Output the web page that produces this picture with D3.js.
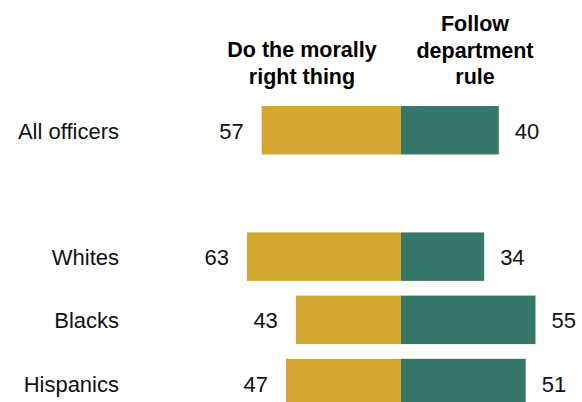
<!DOCTYPE html>
<html>
<head>
<meta charset="utf-8">
<script src="https://cdn.jsdelivr.net/npm/d3@7"></script>
<style>
  html, body { margin: 0; padding: 0; background: #fff; }
  svg { display: block; }
</style>
</head>
<body>
<svg id="chart" width="582" height="402"></svg>
<script>
const categories = ["All officers", "Whites", "Blacks", "Hispanics"];
const moralValues = [57, 63, 43, 47];
const ruleValues = [40, 34, 55, 51];
const moralHeader = ["Do the morally", "right thing"];
const ruleHeader = ["Follow", "department", "rule"];

const colorMoral = "#d3a730";
const colorRule = "#38786a";

const svg = d3.select("#chart");

const x = d3.scaleLinear().domain([-100, 100]).range([401 - 244.5, 401 + 244.5]);
const bandDomain = [categories[0], "__gap__", ...categories.slice(1)];
const y = d3.scaleBand().domain(bandDomain).range([106, 407.3])
  .paddingInner(0.233).paddingOuter(0).align(0);

const rows = categories.map((c, i) => ({ cat: c, moral: moralValues[i], rule: ruleValues[i] }));

const labelFont = "'Liberation Sans', Arial, sans-serif";

// headers
const hdr = svg.append("g").attr("font-family", labelFont).attr("font-weight", "bold")
  .attr("font-size", "21.5px").attr("fill", "#000").attr("text-anchor", "middle");
moralHeader.forEach((t, i) => hdr.append("text").attr("x", 302).attr("y", 57 + i * 26.5).text(t));
ruleHeader.forEach((t, i) => hdr.append("text").attr("x", 475).attr("y", 31 + i * 26.5).text(t));

const g = svg.append("g");
const row = g.selectAll("g.row").data(rows).join("g").attr("class", "row");

row.append("rect")
  .attr("x", d => x(-d.moral))
  .attr("y", d => y(d.cat))
  .attr("width", d => x(0) - x(-d.moral))
  .attr("height", y.bandwidth())
  .attr("fill", colorMoral);

row.append("rect")
  .attr("x", x(0))
  .attr("y", d => y(d.cat))
  .attr("width", d => x(d.rule) - x(0))
  .attr("height", y.bandwidth())
  .attr("fill", colorRule);

const txt = (sel) => sel.attr("font-family", labelFont).attr("font-size", "22px").attr("fill", "#111")
  .attr("dominant-baseline", "central");

row.append("text").call(txt)
  .attr("x", 119).attr("y", d => y(d.cat) + y.bandwidth() / 2 + 1)
  .attr("text-anchor", "end").text(d => d.cat);

row.append("text").call(txt)
  .attr("x", d => x(-d.moral) - 18).attr("y", d => y(d.cat) + y.bandwidth() / 2 + 1)
  .attr("text-anchor", "end").text(d => d.moral);

row.append("text").call(txt)
  .attr("x", d => x(d.rule) + 16).attr("y", d => y(d.cat) + y.bandwidth() / 2 + 1)
  .attr("text-anchor", "start").text(d => d.rule);
</script>
</body>
</html>
